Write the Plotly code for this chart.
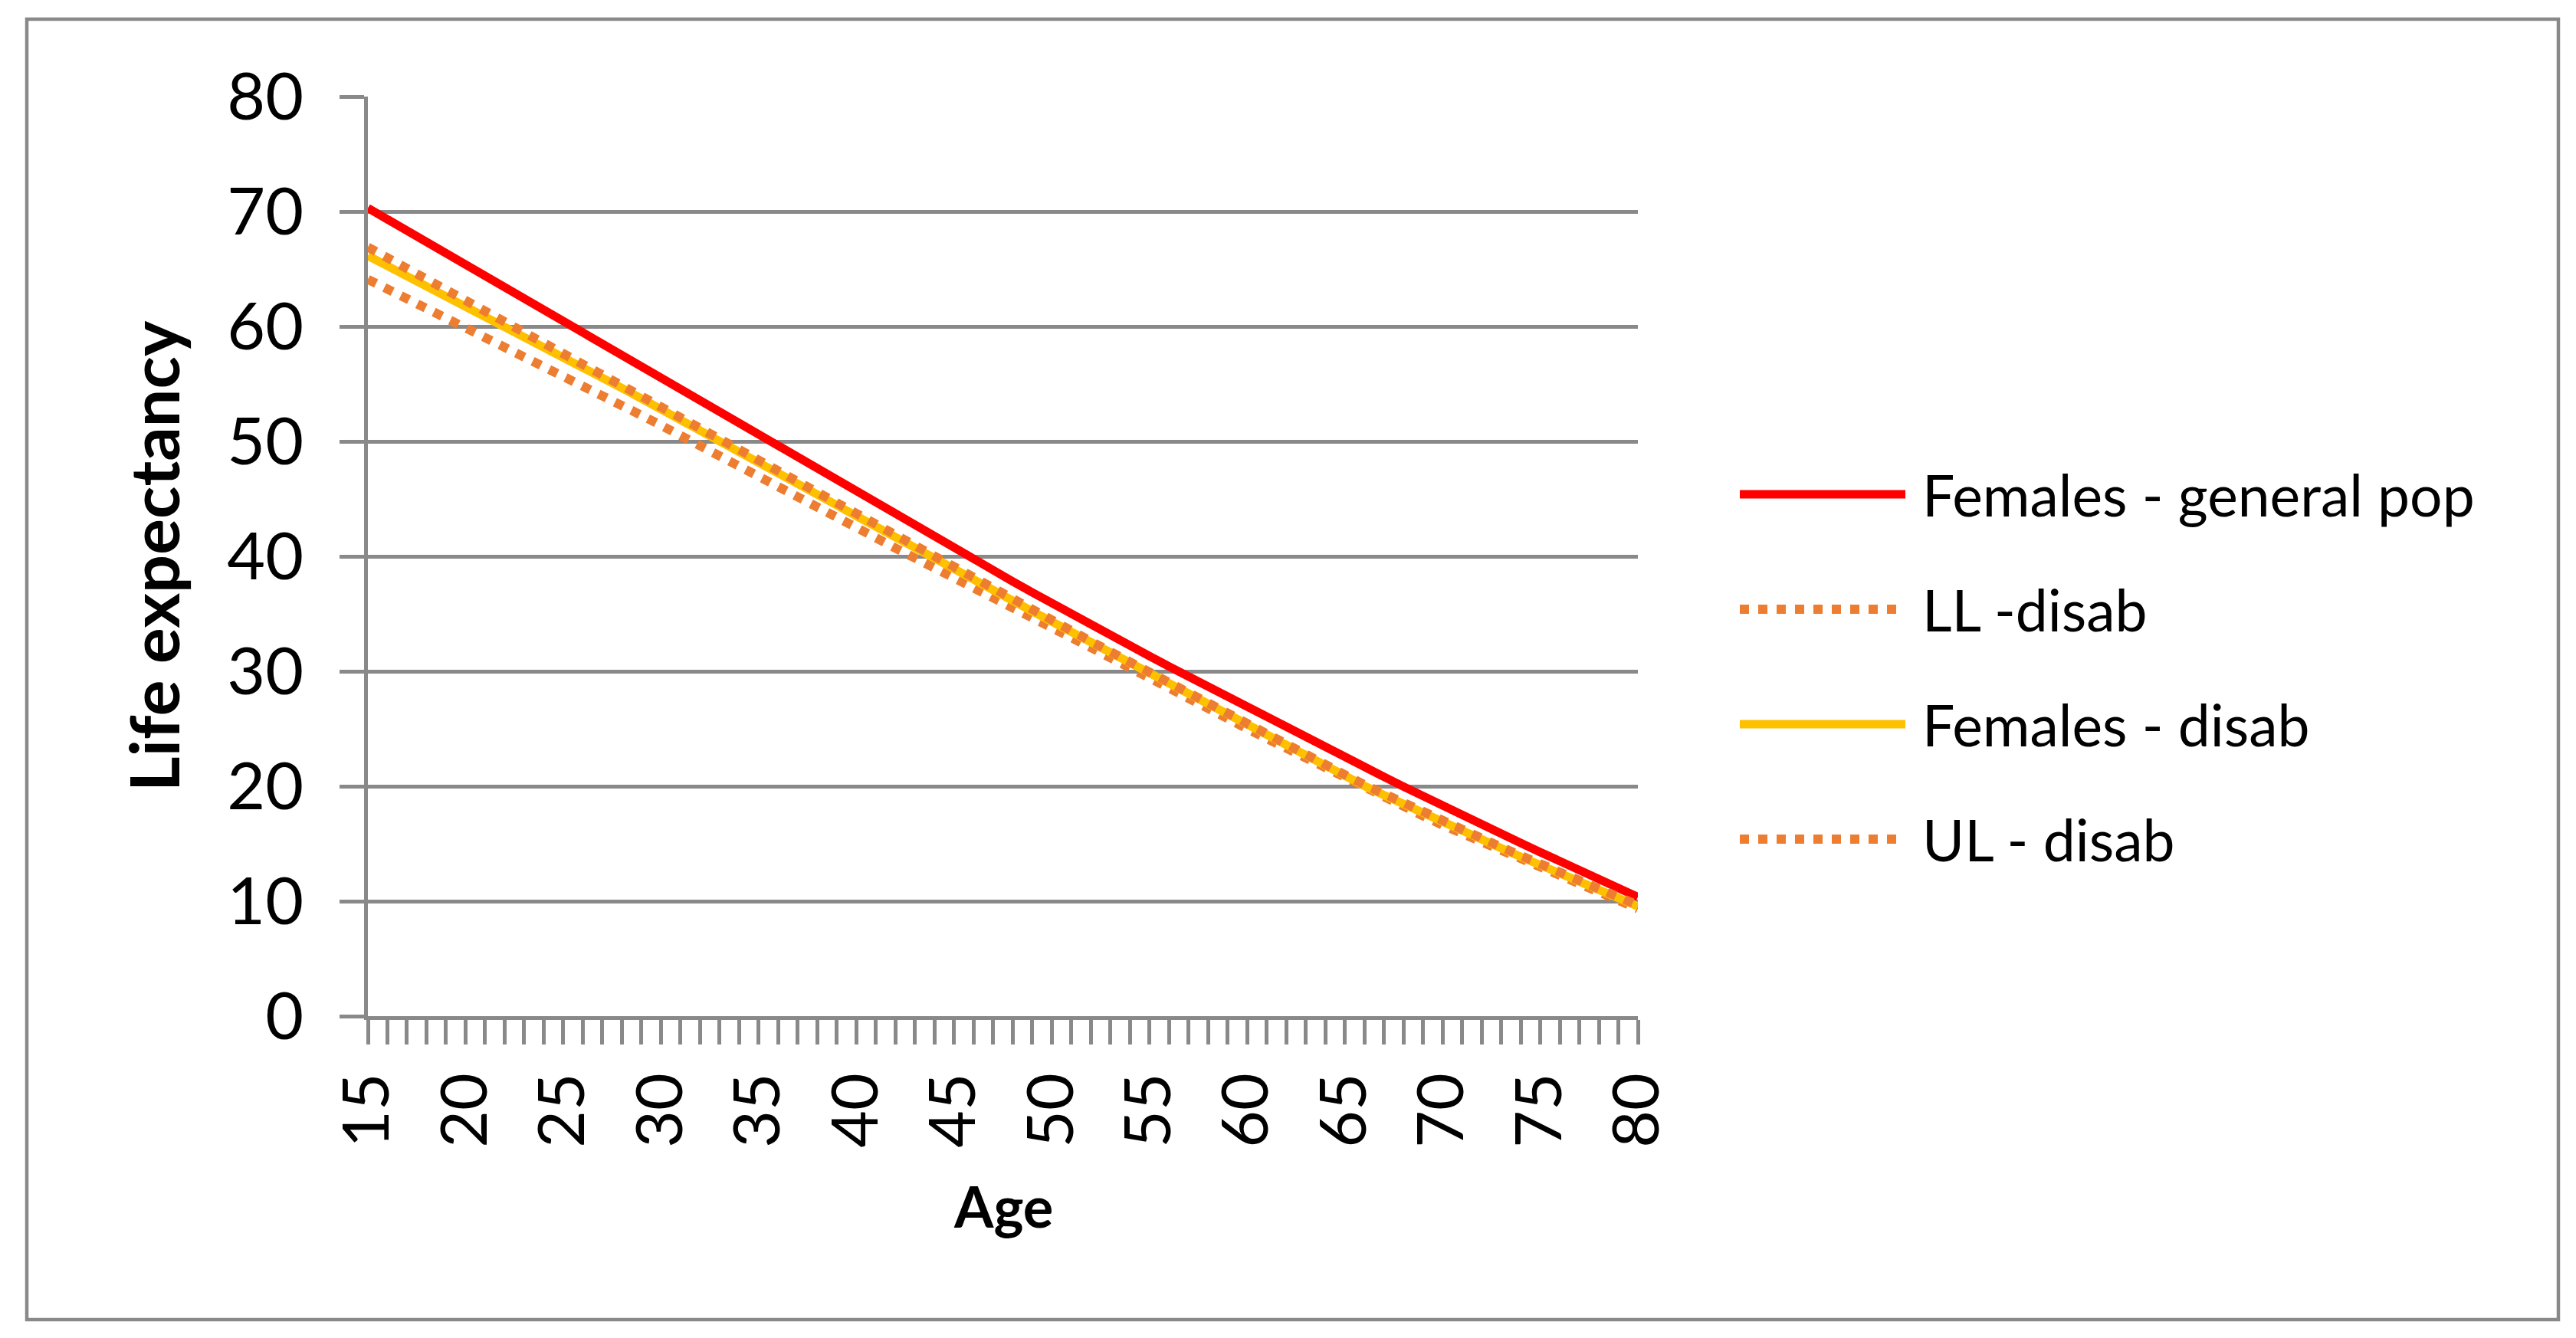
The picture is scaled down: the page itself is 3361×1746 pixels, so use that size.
import plotly.graph_objects as go

# ---------------- data ----------------
ages = [15, 16, 17, 18, 19, 20, 21, 22, 23, 24, 25, 26, 27, 28, 29, 30, 31, 32, 33, 34,
        35, 36, 37, 38, 39, 40, 41, 42, 43, 44, 45, 46, 47, 48, 49, 50, 51, 52, 53, 54,
        55, 56, 57, 58, 59, 60, 61, 62, 63, 64, 65, 66, 67, 68, 69, 70, 71, 72, 73, 74,
        75, 76, 77, 78, 79, 80]

females_general_pop = [70.30, 69.31, 68.33, 67.34, 66.35, 65.37, 64.38, 63.39, 62.40, 61.42,
                       60.43, 59.44, 58.45, 57.47, 56.48, 55.50, 54.51, 53.52, 52.53, 51.54,
                       50.56, 49.57, 48.58, 47.59, 46.61, 45.62, 44.63, 43.64, 42.65, 41.66,
                       40.67, 39.72, 38.77, 37.82, 36.87, 35.92, 35.00, 34.08, 33.16, 32.24,
                       31.32, 30.43, 29.54, 28.65, 27.76, 26.87, 26.00, 25.13, 24.26, 23.39,
                       22.52, 21.67, 20.82, 19.97, 19.12, 18.27, 17.47, 16.67, 15.87, 15.07,
                       14.27, 13.49, 12.71, 11.93, 11.15, 10.37]

ll_disab = [64.10, 63.27, 62.43, 61.61, 60.77, 59.94, 59.10, 58.27, 57.44, 56.61,
            55.74, 54.87, 54.00, 53.14, 52.27, 51.40, 50.53, 49.66, 48.80, 47.90,
            47.00, 46.10, 45.20, 44.31, 43.41, 42.51, 41.62, 40.72, 39.83, 38.94,
            38.08, 37.22, 36.37, 35.50, 34.65, 33.79, 32.93, 32.07, 31.22, 30.35,
            29.50, 28.60, 27.70, 26.80, 25.90, 25.00, 24.14, 23.28, 22.42, 21.56,
            20.70, 19.83, 19.03, 18.23, 17.43, 16.63, 15.89, 15.15, 14.41, 13.67,
            12.93, 12.22, 11.50, 10.79, 10.07, 9.35]

females_disab = [66.15, 65.28, 64.40, 63.53, 62.65, 61.78, 60.90, 60.03, 59.15, 58.28,
                 57.37, 56.46, 55.55, 54.64, 53.73, 52.82, 51.91, 51.00, 50.09, 49.15,
                 48.21, 47.27, 46.33, 45.39, 44.45, 43.51, 42.57, 41.63, 40.69, 39.75,
                 38.85, 37.94, 37.04, 36.13, 35.23, 34.32, 33.42, 32.51, 31.61, 30.70,
                 29.80, 28.89, 27.98, 27.07, 26.16, 25.25, 24.38, 23.51, 22.64, 21.77,
                 20.90, 20.03, 19.23, 18.43, 17.63, 16.83, 16.09, 15.35, 14.61, 13.87,
                 13.13, 12.42, 11.70, 10.99, 10.27, 9.55]

ul_disab = [66.90, 65.97, 65.03, 64.10, 63.16, 62.23, 61.32, 60.42, 59.51, 58.61,
            57.67, 56.74, 55.81, 54.88, 53.95, 53.02, 52.09, 51.17, 50.24, 49.29,
            48.33, 47.37, 46.43, 45.49, 44.55, 43.61, 42.67, 41.73, 40.79, 39.85,
            38.95, 38.04, 37.14, 36.23, 35.33, 34.42, 33.52, 32.61, 31.71, 30.80,
            29.90, 28.99, 28.08, 27.17, 26.26, 25.35, 24.48, 23.61, 22.74, 21.87,
            21.00, 20.13, 19.33, 18.53, 17.73, 16.93, 16.19, 15.45, 14.71, 13.97,
            13.23, 12.52, 11.80, 11.09, 10.37, 9.65]

series_names = ["Females - general pop", "LL -disab", "Females - disab", "UL - disab"]
x_tick_values = [15, 20, 25, 30, 35, 40, 45, 50, 55, 60, 65, 70, 75, 80]
y_tick_values = [0, 10, 20, 30, 40, 50, 60, 70, 80]

# ---------------- styling ----------------
PAGE = 8                      # default body margin of the html page
W, H = 3361 - PAGE, 1746 - PAGE
# plot-area edges in screen pixels, converted to figure pixels
L, R, T, B = 480 - PAGE, 2137 - PAGE, 126 - PAGE, 1326 - PAGE
GRID = "#898989"
RED = "#FF0000"
ORANGE = "#ED7D31"
YELLOW = "#FFC000"
FONT = "Lato"
DOT = "12px,12px"
SOLID_W = 11
DOT_W = 12

series = [
    (series_names[0], females_general_pop, RED, "solid"),
    (series_names[1], ll_disab, ORANGE, DOT),
    (series_names[2], females_disab, YELLOW, "solid"),
    (series_names[3], ul_disab, ORANGE, DOT),
]

fig = go.Figure()
for name, vals, col, dash in series:
    fig.add_trace(go.Scatter(
        x=ages, y=vals, mode="lines", name=name, showlegend=False,
        line=dict(color=col, width=SOLID_W if dash == "solid" else DOT_W, dash=dash),
        hoverinfo="x+y+name",
    ))


def px_x(p):
    """screen x pixel -> paper coordinate"""
    return (p - PAGE - L) / (R - L)


def px_y(p):
    """screen y pixel -> paper coordinate"""
    return (B - (p - PAGE)) / (B - T)


shapes = []
# outer chart border
shapes.append(dict(type="rect", xref="paper", yref="paper",
                   x0=px_x(35), x1=px_x(3338), y0=px_y(1722), y1=px_y(25),
                   line=dict(color=GRID, width=4.5), fillcolor="rgba(0,0,0,0)",
                   layer="below"))

# manual legend (long line samples as in the reference)
legend_y = [645, 795, 945, 1095]
annotations = []
for (name, vals, col, dash), ly in zip(series, legend_y):
    shapes.append(dict(type="line", xref="paper", yref="paper",
                       x0=px_x(2270), x1=px_x(2486), y0=px_y(ly), y1=px_y(ly),
                       line=dict(color=col, width=SOLID_W if dash == "solid" else DOT_W,
                                 dash=dash)))
    annotations.append(dict(xref="paper", yref="paper", x=px_x(2506), y=px_y(ly),
                            text=name, showarrow=False, xanchor="left", yanchor="middle",
                            font=dict(family=FONT, size=75, color="black")))

# axis titles
annotations.append(dict(xref="paper", yref="paper", x=0.5, y=px_y(1573),
                        text="<b>Age</b>", showarrow=False, xanchor="center",
                        yanchor="middle", font=dict(family=FONT, size=74, color="black")))
annotations.append(dict(xref="paper", yref="paper", x=px_x(200), y=0.5,
                        text="<b>Life expectancy</b>", showarrow=False, textangle=-90,
                        xanchor="center", yanchor="middle",
                        font=dict(family=FONT, size=88, color="black")))

fig.update_layout(
    width=W, height=H,
    margin=dict(l=L, r=W - R, t=T, b=H - B, autoexpand=False),
    paper_bgcolor="white", plot_bgcolor="white",
    showlegend=False,
    shapes=shapes, annotations=annotations,
    font=dict(family=FONT, color="black"),
    xaxis=dict(
        range=[15, 80], tickmode="array", tickvals=x_tick_values,
        ticktext=[str(v) for v in x_tick_values],
        tickangle=-90, ticks="outside", ticklen=32, tickwidth=4.5, tickcolor=GRID,
        showline=True, linecolor=GRID, linewidth=4.5, showgrid=False, zeroline=False,
        tickfont=dict(family=FONT, size=84, color="black"),
        minor=dict(tick0=15, dtick=1, ticks="outside", ticklen=32, tickwidth=4.5,
                   tickcolor=GRID, showgrid=False),
        ticklabelstandoff=4,
        fixedrange=True,
    ),
    yaxis=dict(
        range=[0, 80], tickmode="array", tickvals=y_tick_values,
        ticks="outside", ticklen=32, tickwidth=4.5, tickcolor=GRID,
        showline=True, linecolor=GRID, linewidth=4.5,
        showgrid=True, gridcolor=GRID, gridwidth=4.5, zeroline=False,
        tickfont=dict(family=FONT, size=86, color="black"),
        ticklabelstandoff=30,
        fixedrange=True,
    ),
)

fig.write_html("out.html")
